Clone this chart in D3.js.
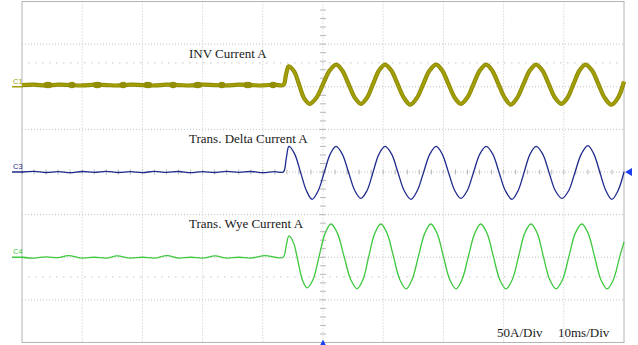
<!DOCTYPE html>
<html><head><meta charset="utf-8">
<script src="https://cdn.jsdelivr.net/npm/d3@7"></script>
<style>html,body{margin:0;padding:0;background:#fff;overflow:hidden}</style>
</head><body><svg id="c" width="638" height="345"></svg>
<script>
// ---- data ----
const timeDomainMs = [-50, 50];          // 10 ms/div, 10 divisions
const divisionDomain = [-4, 4];          // 8 vertical divisions
const ampsPerDiv = 50;                   // 50 A/div
const channelNames = ["C1", "C3", "C4"];
const channelOffsetsDiv = [2, 0, -2];
const channelTitles = ["INV Current A", "Trans. Delta Current A", "Trans. Wye Current A"];
const scaleLabels = ["50A/Div", "10ms/Div"];
const cursorLevelsDiv = [2.56, -2.46];
const invGlitchMs = [-45.7, -41.7, -37.5, -33.2, -29.1, -24.9, -20.8, -16.8, -12.5, -8.3];

// [time ms, current A]
const invCurrentA = [
  [-50,2],[-48,2.5],[-46,1.5],[-44,2.5],[-42,2],[-40,1.5],[-38,2.5],[-36,2],[-34,1.5],[-32,2.5],
  [-30,2],[-28,1.5],[-26,2.5],[-24,2],[-22,1.5],[-20,2.5],[-18,2],[-16,1.5],[-14,2.5],[-12,2],
  [-10,1.5],[-8,2.5],[-6.6,2],[-6.15,14],[-5.7,24],
  [-4.8,18],[-3.95,2],[-3.1,-14],[-2.2,-20],
  [-1.1,-13],[0,3],[1.1,19],[2.2,26],
  [3.2,19],[4.25,3],[5.3,-13],[6.3,-20],
  [7.3,-13],[8.3,3],[9.3,19],[10.3,26],
  [11.35,19],[12.4,3],[13.45,-13],[14.5,-21],
  [15.6,-13],[16.65,3],[17.7,19],[18.8,26],
  [19.8,19],[20.85,3],[21.9,-13],[22.9,-20],
  [23.95,-13],[25.0,3],[26.05,19],[27.1,26],
  [28.1,19],[29.15,3],[30.2,-13],[31.2,-21],
  [32.25,-13],[33.3,3],[34.35,19],[35.4,26],
  [36.45,19],[37.5,3],[38.55,-13],[39.6,-20],
  [40.6,-13],[41.6,3],[42.6,19],[43.6,26],
  [44.7,19],[45.75,3],[46.8,-13],[47.9,-21],
  [49.0,-13],[50,6]
];
const deltaCurrentA = [
  [-50,0],[-48,0.8],[-46,-0.6],[-44,0.5],[-42,-0.8],[-40,0.6],[-38,-0.4],[-36,0.8],[-34,-0.6],[-32,0.4],
  [-30,-0.7],[-28,0.7],[-26,-0.5],[-24,0.6],[-22,-0.8],[-20,0.5],[-18,-0.6],[-16,0.7],[-14,-0.4],[-12,0.6],
  [-10,-0.7],[-8,0.5],[-6.6,0],[-6.1,16],[-5.65,30],
  [-4.7,21],[-3.7,-1],[-2.75,-22],[-1.8,-32],
  [-0.8,-22],[0.2,-0.5],[1.2,21],[2.16,30],
  [3.2,21],[4.25,-0.5],[5.3,-22],[6.3,-31],
  [7.3,-22],[8.3,-0.5],[9.3,21],[10.3,30],
  [11.4,21],[12.45,-0.5],[13.5,-22],[14.6,-32],
  [15.65,-22],[16.7,-0.5],[17.75,21],[18.8,30],
  [19.8,21],[20.85,-0.5],[21.9,-22],[22.9,-31],
  [23.95,-22],[25.0,-0.5],[26.05,21],[27.1,30],
  [28.2,21],[29.25,-0.5],[30.3,-22],[31.4,-32],
  [32.4,-22],[33.4,-0.5],[34.4,21],[35.4,30],
  [36.5,21],[37.55,-0.5],[38.6,-22],[39.7,-31],
  [40.8,-22],[41.85,-0.5],[42.9,21],[44.0,31],
  [45.0,21],[46.0,-0.5],[47.0,-22],[48.0,-32],
  [49.0,-22],[50,0]
];
const wyeCurrentA = [
  [-50,0],[-48,-1],[-46,0.5],[-44,-0.5],[-42.3,2],[-40,-1],[-38,0],[-36,-1],[-34.2,1.5],[-32,-1],
  [-30,0],[-28,-1],[-25.9,2],[-24,-1],[-22,0],[-20,-1],[-17.9,1.5],[-16,-1],[-14,0],[-12,-1],
  [-9.6,2],[-8,0],[-6.6,0],[-6.1,14],[-5.65,25],
  [-4.9,17],[-4.15,-5],[-3.4,-27],[-2.65,-36],
  [-1.65,-26],[-0.65,1],[0.35,28],[1.33,39],
  [2.4,28],[3.5,1],[4.6,-26],[5.65,-37],
  [6.65,-26],[7.6,1],[8.6,28],[9.6,39],
  [10.65,28],[11.7,1],[12.75,-26],[13.8,-37],
  [14.8,-26],[15.85,1],[16.9,28],[17.9,39],
  [18.95,28],[20.0,1],[21.05,-26],[22.1,-37],
  [23.1,-26],[24.15,1],[25.2,28],[26.2,39],
  [27.25,28],[28.3,1],[29.35,-26],[30.4,-37],
  [31.45,-26],[32.5,1],[33.5,28],[34.55,39],
  [35.6,28],[36.6,1],[37.65,-26],[38.7,-37],
  [39.8,-26],[40.85,1],[41.9,28],[43.0,39],
  [44.05,28],[45.1,1],[46.15,-26],[47.2,-37],
  [48.25,-26],[49.3,1],[50,18]
];
const channelSeries = [invCurrentA, deltaCurrentA, wyeCurrentA];

// ---- drawing ----
const svg = d3.select("#c");
const x = d3.scaleLinear().domain(timeDomainMs).range([22, 624]);
const y = d3.scaleLinear().domain(divisionDomain).range([342.5, 1.5]);
const colors = ["#a29e08", "#1f2a8c", "#3ec83e"];
const gridColor = "#c4c4c4";

svg.append("rect").attr("width", 638).attr("height", 345).attr("fill", "#fff");

const grid = svg.append("g");
x.ticks(10).forEach(t => {
  if (t === timeDomainMs[0] || t === timeDomainMs[1]) return;
  grid.append("line").attr("x1", x(t)).attr("x2", x(t)).attr("y1", y(4)).attr("y2", y(-4))
    .attr("stroke", gridColor).attr("stroke-dasharray", "1,2");
});
y.ticks(8).forEach(d => {
  if (d === divisionDomain[0] || d === divisionDomain[1]) return;
  grid.append("line").attr("x1", x(-50)).attr("x2", x(50)).attr("y1", y(d)).attr("y2", y(d))
    .attr("stroke", gridColor).attr("stroke-dasharray", "1,2");
});
// center minor ticks
d3.range(-50, 50.01, 2).forEach(t => {
  grid.append("line").attr("x1", x(t)).attr("x2", x(t)).attr("y1", y(0) - 2.5).attr("y2", y(0) + 2.5)
    .attr("stroke", "#b8b8b8");
});
d3.range(-4, 4.01, 0.2).forEach(d => {
  grid.append("line").attr("x1", x(0) - 3).attr("x2", x(0) + 3).attr("y1", y(d)).attr("y2", y(d))
    .attr("stroke", "#b8b8b8");
});
// cursors
cursorLevelsDiv.forEach(d => {
  grid.append("line").attr("x1", x(-49)).attr("x2", x(49)).attr("y1", y(d)).attr("y2", y(d))
    .attr("stroke", "#cfcfcf").attr("stroke-width", 1.2).attr("stroke-dasharray", "1.5,5.5");
});
// frame
svg.append("rect").attr("x", x(-50)).attr("y", y(4)).attr("width", x(50) - x(-50)).attr("height", y(-4) - y(4))
  .attr("fill", "none").attr("stroke", "#b4b4b4");

// traces
const line = (off) => d3.line()
  .x(d => x(d[0]))
  .y(d => y(off + d[1] / ampsPerDiv))
  .curve(d3.curveCatmullRom.alpha(0.5));

const traces = svg.append("g");
// INV (thick olive with darker rim)
traces.append("path").attr("d", line(channelOffsetsDiv[0])(invCurrentA))
  .attr("fill", "none").attr("stroke", "#8c8800").attr("stroke-width", 4.2).attr("stroke-linejoin", "round");
traces.append("path").attr("d", line(channelOffsetsDiv[0])(invCurrentA))
  .attr("fill", "none").attr("stroke", colors[0]).attr("stroke-width", 2.4).attr("stroke-linejoin", "round");
invGlitchMs.forEach((t, i) => {
  traces.append("ellipse").attr("cx", x(t)).attr("cy", y(channelOffsetsDiv[0] + 2 / ampsPerDiv))
    .attr("rx", i % 2 ? 3.5 : 4.5).attr("ry", 3.2).attr("fill", "#918d04");
});
[1, 2].forEach(i => {
  traces.append("path").attr("d", line(channelOffsetsDiv[i])(channelSeries[i]))
    .attr("fill", "none").attr("stroke", colors[i]).attr("stroke-width", 1.3).attr("stroke-linejoin", "round");
});

// channel markers on the left
channelNames.forEach((n, i) => {
  const yy = y(channelOffsetsDiv[i]);
  svg.append("line").attr("x1", 12).attr("x2", 23).attr("y1", yy).attr("y2", yy)
    .attr("stroke", colors[i]).attr("stroke-width", 1.5);
  svg.append("text").attr("x", 13).attr("y", yy - 3).text(n)
    .attr("font-family", "Liberation Sans, Arial, sans-serif").attr("font-size", 7.5)
    .attr("fill", colors[i]);
});

// titles
channelTitles.forEach((t, i) => {
  svg.append("text").attr("x", 189).attr("y", y(channelOffsetsDiv[i]) - 29).text(t)
    .attr("font-family", "Liberation Serif, Times New Roman, serif").attr("font-size", 13)
    .attr("fill", "#1a1a1a");
});
svg.append("text").attr("x", 497).attr("y", 337).text(scaleLabels[0])
  .attr("font-family", "Liberation Serif, Times New Roman, serif").attr("font-size", 13).attr("fill", "#1a1a1a");
svg.append("text").attr("x", 558).attr("y", 337).text(scaleLabels[1])
  .attr("font-family", "Liberation Serif, Times New Roman, serif").attr("font-size", 13).attr("fill", "#1a1a1a");

// trigger markers
const y0 = y(0), xr = x(50) + 1;
svg.append("path").attr("d", `M${xr},${y0} L${xr + 7},${y0 - 4} L${xr + 7},${y0 + 4} Z`).attr("fill", "#1e3ef0");
const xc = x(0), yb = y(-4);
svg.append("path").attr("d", `M${xc},${yb - 3} L${xc - 3},${yb + 3} L${xc + 3},${yb + 3} Z`).attr("fill", "#1e3ef0");
</script>
</body></html>
